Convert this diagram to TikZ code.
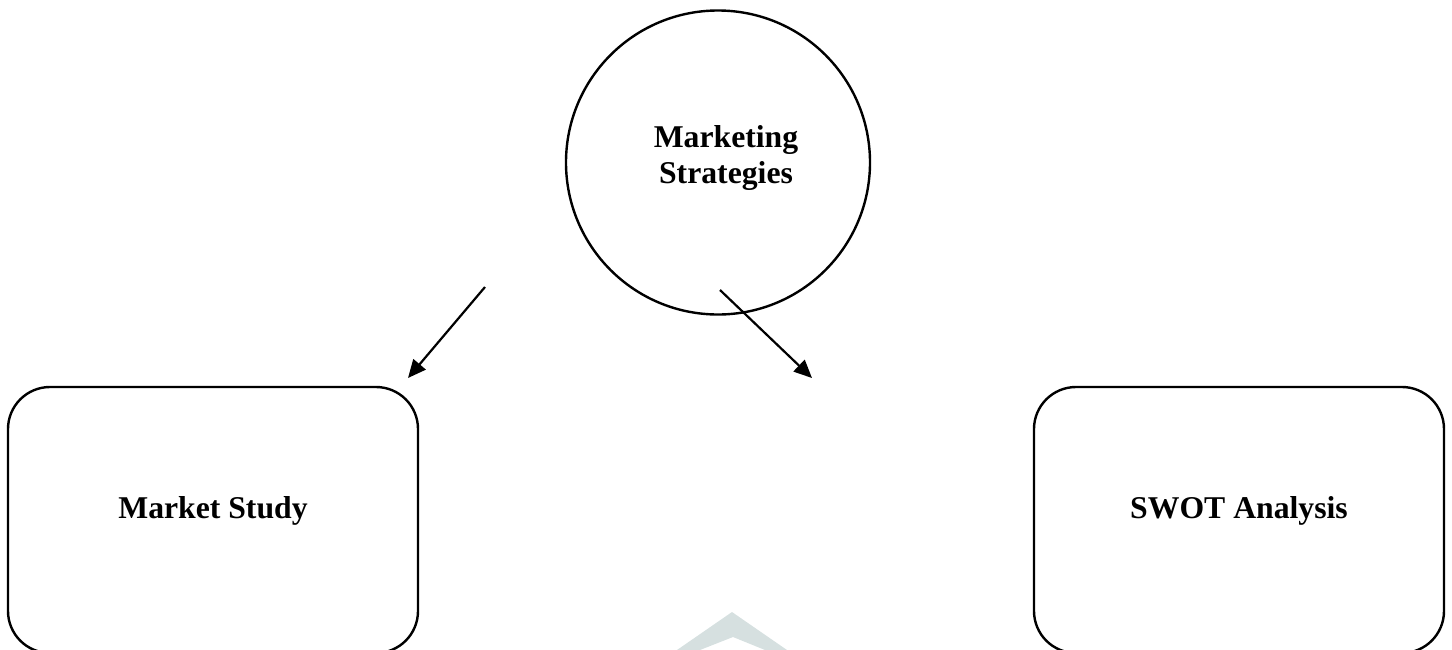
\documentclass[tikz,border=0pt]{standalone}
\usepackage{fontspec}
\setmainfont{Liberation Serif}
\usetikzlibrary{arrows.meta}
\begin{document}
\begin{tikzpicture}[x=1pt,y=-1pt,
  shapeline/.style={draw=black,line width=2.4pt},
  boxshape/.style={shapeline,rectangle,rounded corners=42pt,minimum width=410pt,minimum height=266pt,inner sep=0pt},
  lbl/.style={font=\fontsize{31.7}{36}\selectfont\bfseries,align=center,inner sep=0pt},
  conn/.style={line width=2.2pt,-{Triangle[length=18pt,width=16pt]}}]
\useasboundingbox (0,0) rectangle (1452,649);
% watermark
\fill[fill={rgb,255:red,214;green,224;blue,224}] (732,612) -- (677,650) -- (700,650) -- (733,637) -- (765,650) -- (787,650) -- cycle;
% circle
\node[shapeline,circle,minimum size=304pt,inner sep=0pt] (ms) at (718,162.5) {};
\node[lbl,anchor=base] (mstext1) at (726,147) {Marketing};
\node[lbl,anchor=base] (mstext2) at (726,183) {Strategies};
% boxes
\node[boxshape] (study) at (213,520) {};
\node[lbl,anchor=base] (studytext) at (213,518) {Market Study};
\node[boxshape] (swot) at (1239,520) {};
\node[lbl,anchor=base] (swottext) at (1239,518) {SWOT Analysis};
% arrows
\coordinate (a1s) at (485,287);
\coordinate (a1e) at (408,378);
\coordinate (a2s) at (720,290);
\coordinate (a2e) at (812,378);
\draw[conn] (a1s) -- (a1e);
\draw[conn] (a2s) -- (a2e);
\end{tikzpicture}
\end{document}
